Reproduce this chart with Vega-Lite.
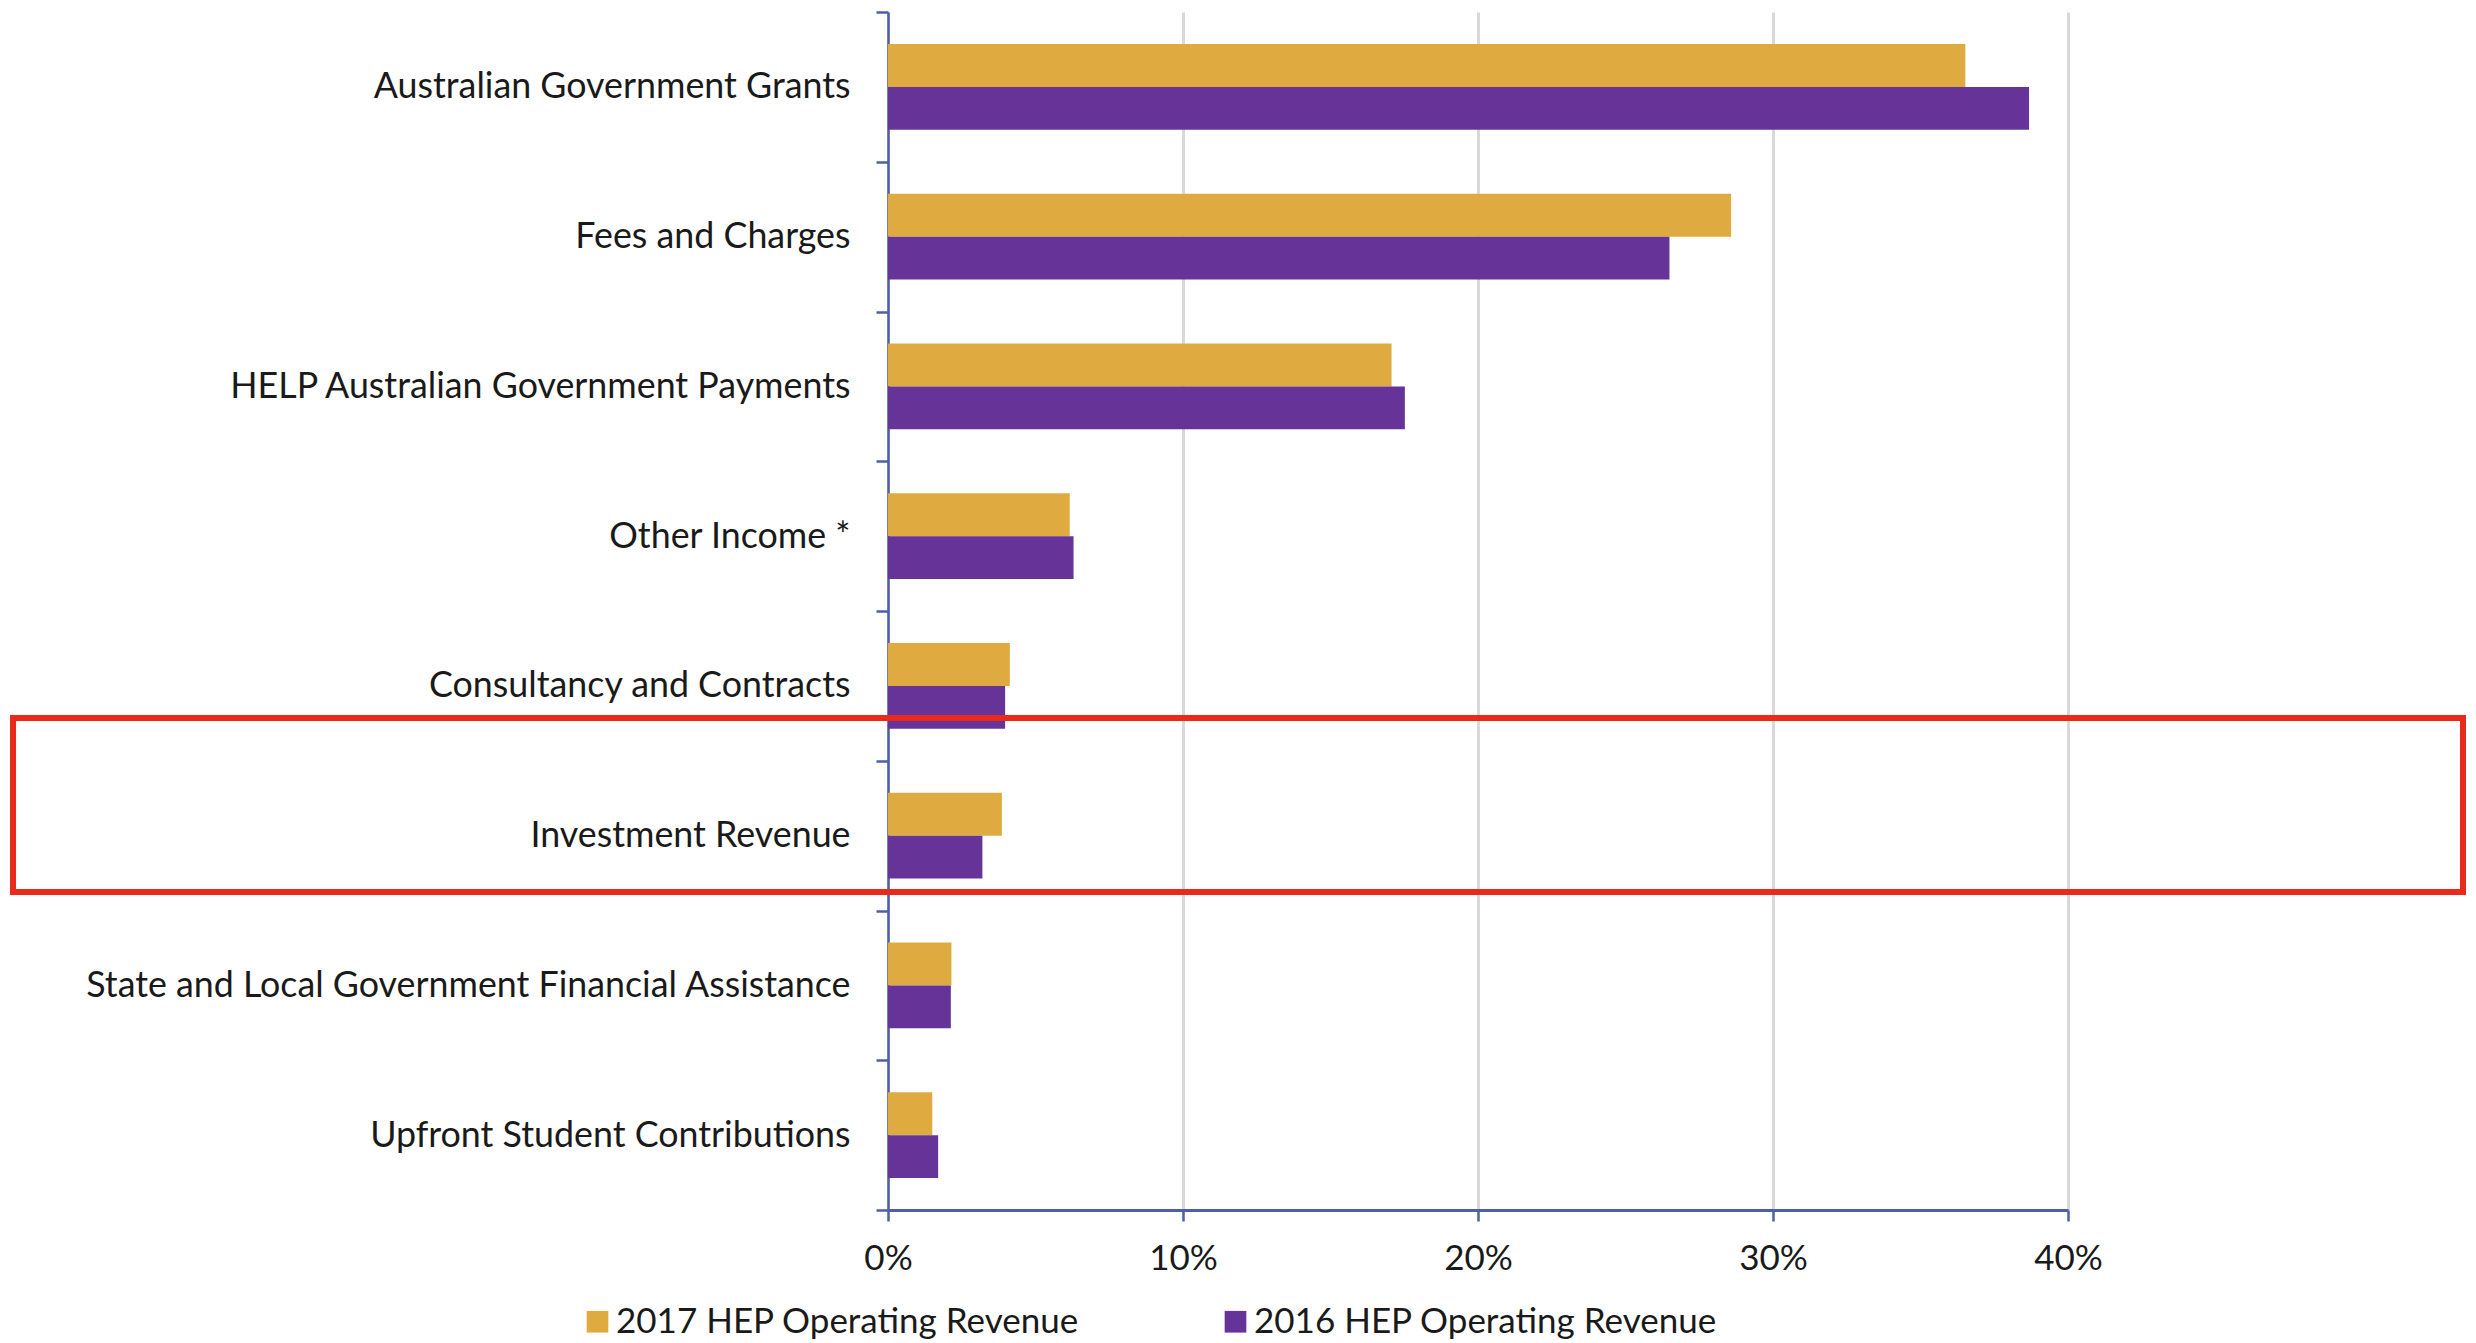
{
  "$schema": "https://vega.github.io/schema/vega-lite/v6.json",
  "width": 1180,
  "height": 1198,
  "autosize": {"type": "none"},
  "padding": {"left": 888, "top": 12, "right": 408, "bottom": 133},
  "background": "white",
  "config": {"view": {"stroke": null}, "font": "Lato"},
  "layer": [
    {
      "data": {
        "values": [
          {"source": "Australian Government Grants", "series": "2017 HEP Operating Revenue", "share": 0.3652},
          {"source": "Australian Government Grants", "series": "2016 HEP Operating Revenue", "share": 0.3868},
          {"source": "Fees and Charges", "series": "2017 HEP Operating Revenue", "share": 0.2858},
          {"source": "Fees and Charges", "series": "2016 HEP Operating Revenue", "share": 0.2649},
          {"source": "HELP Australian Government Payments", "series": "2017 HEP Operating Revenue", "share": 0.1707},
          {"source": "HELP Australian Government Payments", "series": "2016 HEP Operating Revenue", "share": 0.1752},
          {"source": "Other Income *", "series": "2017 HEP Operating Revenue", "share": 0.0616},
          {"source": "Other Income *", "series": "2016 HEP Operating Revenue", "share": 0.0629},
          {"source": "Consultancy and Contracts", "series": "2017 HEP Operating Revenue", "share": 0.0413},
          {"source": "Consultancy and Contracts", "series": "2016 HEP Operating Revenue", "share": 0.0397},
          {"source": "Investment Revenue", "series": "2017 HEP Operating Revenue", "share": 0.0386},
          {"source": "Investment Revenue", "series": "2016 HEP Operating Revenue", "share": 0.032},
          {"source": "State and Local Government Financial Assistance", "series": "2017 HEP Operating Revenue", "share": 0.0215},
          {"source": "State and Local Government Financial Assistance", "series": "2016 HEP Operating Revenue", "share": 0.0213},
          {"source": "Upfront Student Contributions", "series": "2017 HEP Operating Revenue", "share": 0.015},
          {"source": "Upfront Student Contributions", "series": "2016 HEP Operating Revenue", "share": 0.017}
        ]
      },
      "mark": {"type": "bar"},
      "encoding": {
        "y": {
          "field": "source",
          "type": "nominal",
          "sort": [
            "Australian Government Grants",
            "Fees and Charges",
            "HELP Australian Government Payments",
            "Other Income *",
            "Consultancy and Contracts",
            "Investment Revenue",
            "State and Local Government Financial Assistance",
            "Upfront Student Contributions"
          ],
          "scale": {"paddingInner": 0, "paddingOuter": 0},
          "axis": {
            "title": null,
            "grid": false,
            "domainColor": "#4d5fa9",
            "domainWidth": 2.5,
            "ticks": true,
            "tickBand": "extent",
            "tickColor": "#4d5fa9",
            "tickWidth": 2.5,
            "tickSize": 12,
            "labelPadding": 26,
            "labelFontSize": 35.8,
            "labelColor": "#1a1a1a",
            "labelLimit": 1200
          }
        },
        "yOffset": {
          "field": "series",
          "type": "nominal",
          "sort": ["2017 HEP Operating Revenue", "2016 HEP Operating Revenue"],
          "scale": {"paddingInner": 0, "paddingOuter": 0.75}
        },
        "x": {
          "field": "share",
          "type": "quantitative",
          "scale": {"domain": [0, 0.4], "nice": false},
          "axis": {
            "title": null,
            "format": ".0%",
            "values": [0, 0.1, 0.2, 0.3, 0.4],
            "labelFlush": false,
            "grid": true,
            "gridColor": "#d9d9d9",
            "gridWidth": 3,
            "domainColor": "#4d5fa9",
            "domainWidth": 3,
            "tickColor": "#4d5fa9",
            "tickWidth": 2.5,
            "tickSize": 11,
            "labelPadding": 20,
            "labelFontSize": 35,
            "labelColor": "#1a1a1a"
          }
        },
        "color": {
          "field": "series",
          "type": "nominal",
          "scale": {
            "domain": ["2017 HEP Operating Revenue", "2016 HEP Operating Revenue"],
            "range": ["#dfab41", "#663399"]
          },
          "legend": {
            "title": null,
            "orient": "none",
            "legendX": -308,
            "legendY": 1292,
            "direction": "horizontal",
            "symbolType": "square",
            "symbolSize": 470,
            "symbolStrokeWidth": 0,
            "labelFontSize": 35,
            "labelColor": "#1a1a1a",
            "labelOffset": 1,
            "columnPadding": 138,
            "labelLimit": 1000
          }
        }
      }
    },
    {
      "data": {"values": [{"x1": -0.2966, "x2": 0.5339, "y1": 4.714, "y2": 5.876}]},
      "mark": {"type": "rect", "fillOpacity": 0, "stroke": "#e8291c", "strokeWidth": 6, "clip": false},
      "encoding": {
        "x": {"field": "x1", "type": "quantitative", "scale": {"domain": [0, 0.4], "nice": false}},
        "x2": {"field": "x2"},
        "y": {"field": "y1", "type": "quantitative", "scale": {"domain": [0, 8], "reverse": true, "nice": false, "zero": false}, "axis": null},
        "y2": {"field": "y2"}
      }
    }
  ],
  "resolve": {"scale": {"y": "independent"}, "axis": {"y": "independent"}}
}
